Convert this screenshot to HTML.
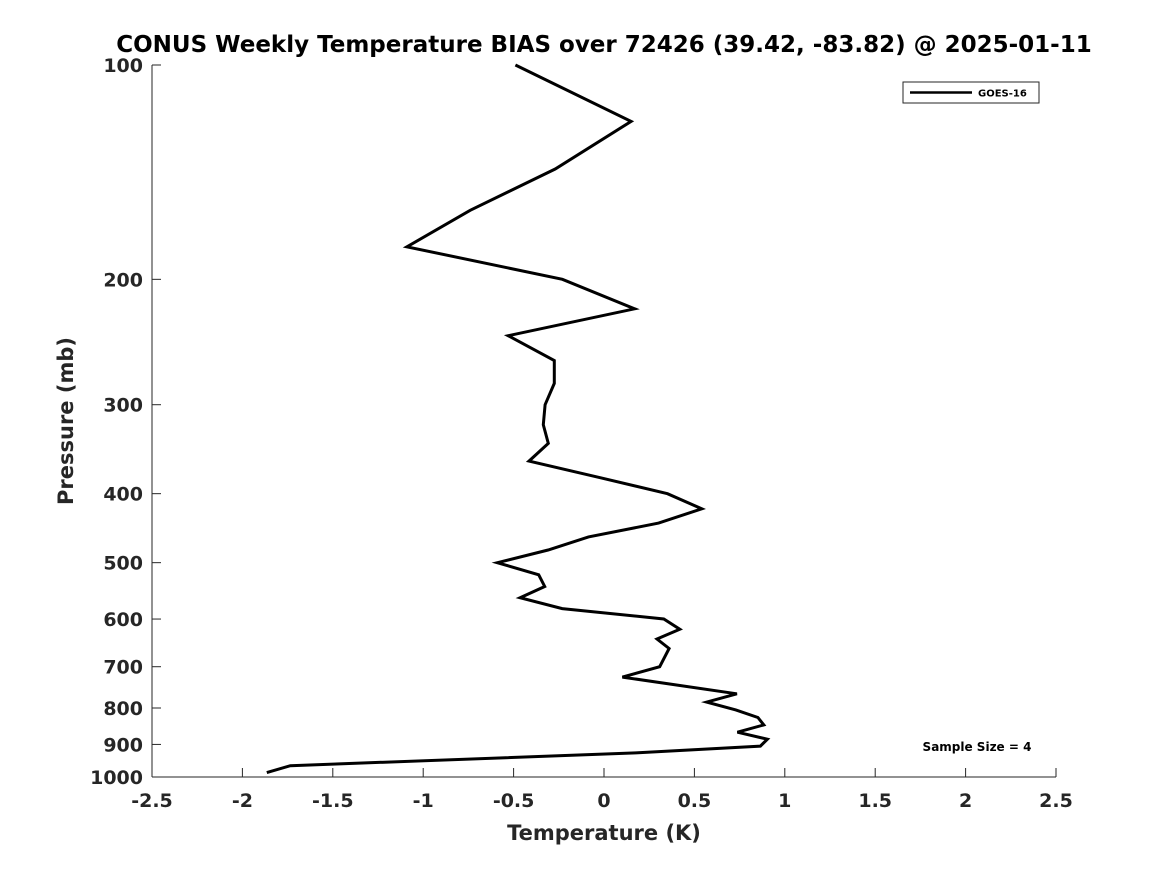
<!DOCTYPE html>
<html><head><meta charset="utf-8"><style>
body{margin:0;background:#fff;}
svg{display:block;font-family:"DejaVu Sans","Liberation Sans",sans-serif;font-weight:bold;}
</style></head><body>
<svg id="chart" width="1167" height="875" viewBox="0 0 1167 875">
<rect width="1167" height="875" fill="#fff"/>
<text x="604" y="52" font-size="23" text-anchor="middle" fill="#000">CONUS Weekly Temperature BIAS over 72426 (39.42, -83.82) @ 2025-01-11</text>
<g id="axes"></g>
<text x="604" y="840" font-size="21" text-anchor="middle" fill="#262626">Temperature (K)</text>
<text transform="translate(73,421) rotate(-90)" font-size="21" text-anchor="middle" fill="#262626">Pressure (mb)</text>
<g>
<rect x="903" y="82" width="136" height="21" fill="#fff" stroke="#262626" stroke-width="1"/>
<line x1="910" y1="92.5" x2="972" y2="92.5" stroke="#000" stroke-width="2.5"/>
<text x="978" y="96.5" font-size="10" fill="#000">GOES-16</text>
</g>
<text x="977" y="751" font-size="12" text-anchor="middle" fill="#000">Sample Size = 4</text>
</svg>
<script>
const xTicks=[-2.5,-2,-1.5,-1,-0.5,0,0.5,1,1.5,2,2.5];
const xTickLabels=["-2.5","-2","-1.5","-1","-0.5","0","0.5","1","1.5","2","2.5"];
const yTicks=[100,200,300,400,500,600,700,800,900,1000];
const pressures=[100,120,140,160,180,200,220,240,260,280,300,320,340,360,380,400,420,440,460,480,500,520,540,560,580,600,620,640,660,700,724,764,785,805,825,845,865,885,905,925,964,986];
const biasGoes16=[-0.49,0.15,-0.27,-0.74,-1.09,-0.23,0.17,-0.53,-0.275,-0.275,-0.326,-0.336,-0.308,-0.415,-0.018,0.351,0.541,0.302,-0.086,-0.309,-0.59,-0.361,-0.328,-0.464,-0.231,0.331,0.419,0.293,0.36,0.308,0.102,0.735,0.568,0.729,0.851,0.884,0.738,0.904,0.865,0.176,-1.735,-1.865];
const L=152,R=1056,T=65,B=777;
const xs=v=>L+(v-(-2.5))/5*(R-L);
const ys=p=>T+Math.log10(p/100)*(B-T);
const NS="http://www.w3.org/2000/svg";
const g=document.getElementById('axes');
function mk(t,a){const e=document.createElementNS(NS,t);for(const k in a)e.setAttribute(k,a[k]);return e;}
const xl=mk('line',{x1:L,y1:B,x2:R,y2:B,stroke:'#262626','stroke-width':1});


g.appendChild(xl);
const yl=mk('line',{x1:L,y1:T,x2:L,y2:B,stroke:'#262626','stroke-width':1});


g.appendChild(yl);
xTicks.forEach((v,i)=>{const x=xs(v);
const t=mk('line',{x1:x,y1:B,x2:x,y2:B-9,stroke:'#262626','stroke-width':1});


g.appendChild(t);
const tx=mk('text',{x:x,y:B+30,'font-size':19,'text-anchor':'middle',fill:'#262626'});
tx.textContent=xTickLabels[i];


g.appendChild(tx);});
yTicks.forEach(p=>{const y=ys(p);
const t=mk('line',{x1:L,y1:y,x2:L+9,y2:y,stroke:'#262626','stroke-width':1});


g.appendChild(t);
const tx=mk('text',{x:L-9,y:y+7,'font-size':19,'text-anchor':'end',fill:'#262626'});
tx.textContent=String(p);


g.appendChild(tx);});
const pts=pressures.map((p,i)=>xs(biasGoes16[i]).toFixed(1)+','+ys(p).toFixed(1)).join(' ');
const line=mk('polyline',{points:pts,fill:'none',stroke:'#000','stroke-width':3,'stroke-linejoin':'miter'});


document.getElementById('chart').appendChild(line);
</script>
</body></html>
